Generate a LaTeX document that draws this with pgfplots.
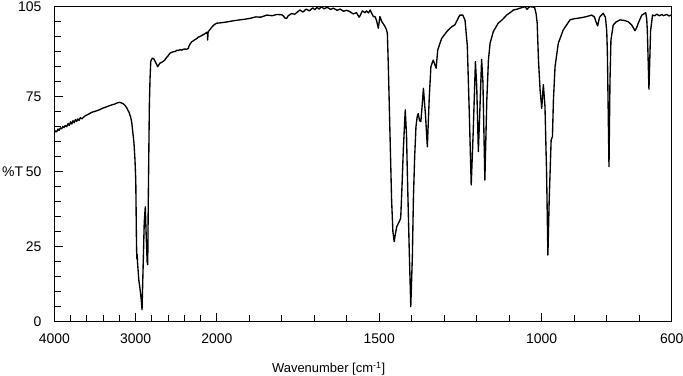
\documentclass[border=0pt]{standalone}
\usepackage{fontspec}
\setmainfont{Liberation Sans}
\usepackage{pgfplots}
\usepackage{pgfplotstable}
\pgfplotsset{compat=1.18}
\pgfplotstableread{
w t
4000 63.0
3985 63.6
3970 63.3
3955 64.2
3940 63.8
3925 64.6
3910 64.3
3895 65.1
3880 64.7
3865 65.4
3847 65.0
3830 66.0
3815 65.4
3800 66.6
3785 65.9
3770 67.0
3755 66.3
3740 67.4
3725 66.8
3710 67.6
3695 67.1
3680 68.0
3660 67.6
3643 68.1
3620 68.6
3600 68.9
3570 69.3
3540 69.8
3500 70.1
3470 70.4
3437 70.7
3400 71.2
3360 71.6
3320 72.0
3290 72.3
3260 72.5
3230 72.9
3200 73.1
3180 73.0
3150 72.6
3130 72.1
3109 71.3
3080 69.8
3060 68.2
3047 66.5
3035 63.5
3019 59.5
3007 54.0
2997 47.0
2990 30.0
2987 24.5
2984 21.0
2980 22.5
2976 20.0
2960 14.0
2945 11.0
2930 7.5
2920 4.0
2905 20.0
2893 33.0
2880 38.3
2868 28.0
2857 20.0
2850 19.0
2843 40.6
2830 72.0
2822 80.6
2813 86.7
2800 87.6
2790 87.8
2780 87.7
2773 87.5
2760 86.8
2740 85.8
2728 85.0
2720 85.3
2700 86.2
2680 86.4
2658 86.8
2640 87.2
2620 88.0
2600 88.6
2576 89.5
2555 89.8
2530 90.0
2510 90.1
2490 90.5
2470 90.4
2453 90.7
2430 90.5
2412 90.8
2390 90.9
2370 90.8
2350 91.1
2340 92.0
2330 92.5
2309 93.3
2290 93.6
2270 94.0
2250 94.3
2230 94.8
2206 95.1
2185 95.4
2166 95.7
2145 96.0
2125 96.4
2116 96.5
2112 93.9
2108 96.2
2104 96.7
2080 97.5
2060 98.2
2040 98.8
2020 99.2
2001 99.5
1990 99.6
1970 99.9
1949 100.3
1930 100.6
1915 100.8
1898 101.1
1880 101.6
1865 101.5
1846 102.2
1830 102.0
1815 102.4
1800 102.3
1795 101.9
1790 101.2
1785 101.1
1780 102.0
1770 102.7
1760 102.5
1744 103.9
1735 103.2
1725 104.2
1715 103.6
1705 104.6
1698 104.0
1692 104.8
1685 104.2
1678 105.0
1670 104.3
1660 104.8
1650 104.1
1641 104.5
1630 103.8
1620 104.2
1610 103.5
1600 103.8
1590 103.3
1580 102.6
1570 103.0
1562 101.5
1559 102.0
1552 103.6
1544 103.0
1539 103.6
1533 102.9
1528 103.9
1522 102.5
1518 101.7
1513 101.7
1508 100.3
1503 97.8
1498 101.7
1492 100.0
1487 99.2
1482 98.3
1478 97.4
1475 96.1
1472 85.0
1467 62.8
1462 40.6
1458 30.0
1454 26.7
1450 29.5
1446 31.7
1440 33.0
1434 34.5
1430 45.0
1426 57.2
1420 70.6
1416 62.0
1414 51.7
1408 25.0
1403 5.0
1398 22.0
1395 40.6
1391 55.0
1387 65.0
1383 68.5
1380 69.4
1376 67.0
1372 66.7
1368 72.0
1364 77.8
1360 72.0
1358 69.4
1352 58.3
1346 75.0
1341 85.0
1334 87.2
1325 84.5
1320 90.6
1308 94.4
1292 96.7
1285 97.5
1277 98.3
1267 99.0
1260 100.5
1252 102.2
1243 102.2
1236 100.5
1229 92.0
1223 70.0
1217 45.6
1211 62.8
1204 86.7
1200 78.3
1195 56.7
1190 71.7
1185 87.4
1181 80.0
1175 47.2
1169 73.9
1164 87.2
1159 92.8
1149 96.7
1134 99.5
1120 100.8
1108 102.2
1095 103.2
1087 103.9
1075 104.2
1067 104.5
1058 104.8
1051 105.0
1045 104.1
1040 104.8
1036 105.0
1028 104.9
1022 104.8
1017 102.5
1014 99.5
1010 87.2
1005 77.2
1000 71.1
995 79.0
990 71.7
985 49.5
981 22.2
977 40.6
971 60.6
967 61.7
964 73.9
959 85.0
949 92.8
934 97.2
920 99.5
913 100.6
900 101.0
892 101.1
875 101.4
862 101.7
846 102.2
838 101.6
833 100.0
828 98.6
822 101.5
811 102.8
804 101.5
800 97.0
798 90.0
793 51.7
790 80.0
787 93.9
780 98.9
770 100.0
759 100.6
745 100.4
734 100.0
723 98.9
713 97.0
708 98.0
703 99.5
692 102.2
680 103.0
677 101.0
675 97.0
670 77.5
665 97.0
659 102.2
652 102.0
646 102.5
638 102.0
630 102.4
626 102.0
615 102.4
608 101.9
600 102.3
}\spectrum
\begin{document}
\begin{tikzpicture}
\useasboundingbox (-54.3bp,-54.3bp) rectangle (628.7bp,321.7bp);
\begin{axis}[
  at={(0,0)}, anchor=south west,
  scale only axis, width=617.4bp, height=315bp,
  xmin=0, xmax=1900, ymin=0, ymax=105,
  xtick={0,250,500,1000,1500,1900},
  xticklabels={4000,3000,2000,1500,1000,600},
  minor xtick={50,100,150,200,300,350,400,450,600,700,800,900,1100,1200,1300,1400,1600,1700,1800},
  ytick={0,25,50,75,105},
  yticklabels={0,25,50,75,105},
  minor ytick={5,10,15,20,30,35,40,45,55,60,65,70,80,85,90,95,100},
  tick align=inside, xtick pos=bottom, ytick pos=left,
  major tick length=9bp, minor tick length=6.5bp,
  every tick/.style={black, line width=1bp},
  axis line style={black, line width=1bp},
  /pgf/number format/assume math mode=true,
  tick label style={font=\fontsize{14}{16}\selectfont, inner sep=0pt},
  xticklabel style={anchor=north, yshift=-11.6bp},
  yticklabel style={anchor=east, xshift=-12.6bp},
  xlabel={Wavenumber [cm\textsuperscript{-1}]},
  ylabel={\%T},
  every axis x label/.style={at={(axis description cs:0.4444,0)}, anchor=base, yshift=-51bp, font=\fontsize{13}{15}\selectfont, inner sep=0pt},
  every axis y label/.style={at={(axis description cs:0,0.4762)}, anchor=east, xshift=-31bp, font=\fontsize{14}{16}\selectfont, inner sep=0pt},
]
\addplot[black, line width=1.35bp, line join=round] table[x expr={\thisrow{w}>=2000 ? (4000-\thisrow{w})/4 : 2500-\thisrow{w}}, y=t] {\spectrum};
\end{axis}
\end{tikzpicture}
\end{document}
